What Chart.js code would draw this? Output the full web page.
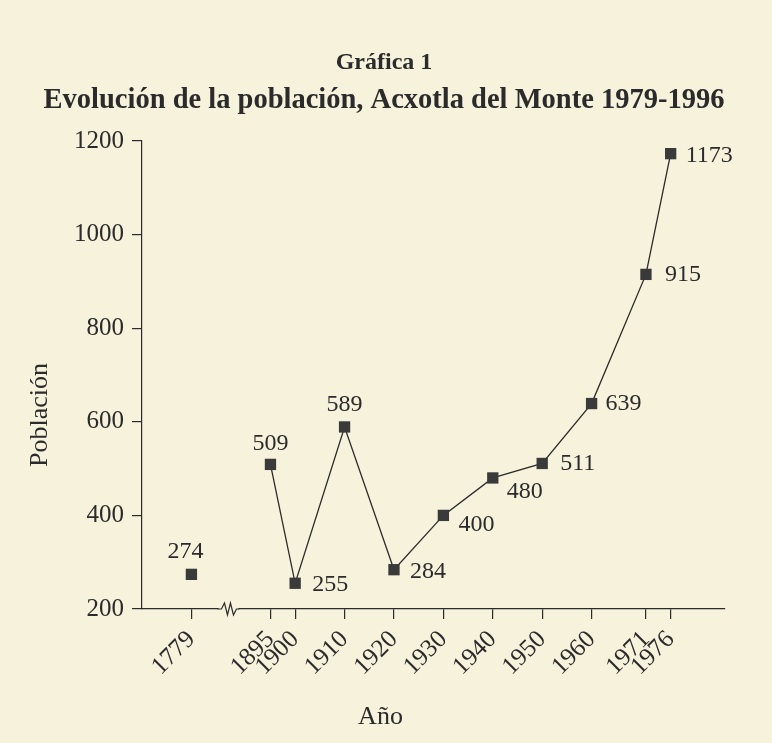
<!DOCTYPE html>
<html>
<head>
<meta charset="utf-8">
<script src="https://cdn.jsdelivr.net/npm/chart.js@4"></script>
<style>
    html, body { margin: 0; padding: 0; background: #f6f2dc; }
    #wrap { width: 772px; height: 743px; }
</style>
</head>
<body>
<div id="wrap"><canvas id="poblacionChart" width="772" height="743"></canvas></div>
<script>
// Datos
const years = ['1779', '1895', '1900', '1910', '1920', '1930', '1940', '1950', '1960', '1971', '1976'];
const population = [274, 509, 255, 589, 284, 400, 480, 511, 639, 915, 1173];
const yTicks = [200, 400, 600, 800, 1000, 1200];

const chartTitle = 'Gráfica 1';
const chartSubtitle = 'Evolución de la población, Acxotla del Monte 1979-1996';
const xTitle = 'Año';
const yTitle = 'Población';

// 1779 is drawn just left of the axis break
const BREAK_AT = 1886.5;
function axisPos(year) {
    const y = Number(year);
    return y < 1890 ? 1879 : y;
}

// label placement: dx, dy, align
const labelOffsets = [
    [-6, -23, 'center'],
    [0, -21, 'center'],
    [17, 1, 'left'],
    [0, -22, 'center'],
    [16, 2, 'left'],
    [15, 9, 'left'],
    [14, 14, 'left'],
    [18, 0, 'left'],
    [14, 0, 'left'],
    [19, 0, 'left'],
    [15, 2, 'left']
];

const ink = '#2b2b2b';
const paper = '#f6f2dc';
const serif = '"Liberation Serif", "DejaVu Serif", serif';

const pointLabels = {
    id: 'pointLabels',
    afterDatasetsDraw(chart) {
        const ctx = chart.ctx;
        const meta = chart.getDatasetMeta(0);
        ctx.save();
        ctx.font = '24px ' + serif;
        ctx.fillStyle = ink;
        ctx.textBaseline = 'middle';
        meta.data.forEach((pt, i) => {
            const off = labelOffsets[i];
            ctx.textAlign = off[2];
            ctx.fillText(String(population[i]), pt.x + off[0], pt.y + off[1]);
        });
        ctx.restore();
    }
};

// axis titles sit a bit off-centre in the original
const axisTitles = {
    id: 'axisTitles',
    afterDraw(chart) {
        const ctx = chart.ctx;
        const area = chart.chartArea;
        ctx.save();
        ctx.font = '26px ' + serif;
        ctx.fillStyle = ink;
        ctx.textAlign = 'center';
        ctx.textBaseline = 'middle';
        ctx.fillText(xTitle, (area.left + area.right) / 2 - 53, chart.height - 26);
        ctx.translate(40, (area.top + area.bottom) / 2 + 40);
        ctx.rotate(-Math.PI / 2);
        ctx.fillText(yTitle, 0, 0);
        ctx.restore();
    }
};

const axisBreak = {
    id: 'axisBreak',
    afterDraw(chart) {
        const ctx = chart.ctx;
        const x = chart.scales.x.getPixelForValue(BREAK_AT);
        const y = chart.scales.x.top;
        ctx.save();
        ctx.fillStyle = paper;
        ctx.fillRect(x - 10, y - 2, 20, 4);
        ctx.strokeStyle = ink;
        ctx.lineWidth = 1.2;
        ctx.beginPath();
        ctx.moveTo(x - 11, y);
        ctx.lineTo(x - 7, y);
        ctx.lineTo(x - 4, y - 6);
        ctx.lineTo(x - 1, y + 6);
        ctx.lineTo(x + 2, y - 6);
        ctx.lineTo(x + 5, y + 6);
        ctx.lineTo(x + 8, y);
        ctx.lineTo(x + 11, y);
        ctx.stroke();
        ctx.restore();
    }
};

const ctx = document.getElementById('poblacionChart').getContext('2d');
new Chart(ctx, {
    type: 'line',
    data: {
        datasets: [{
            data: years.map((yr, i) => ({ x: axisPos(yr), y: population[i] })),
            borderColor: ink,
            borderWidth: 1.3,
            pointStyle: 'rect',
            pointRadius: 8,
            pointHoverRadius: 8,
            pointBackgroundColor: '#3a3a3a',
            pointBorderColor: '#3a3a3a',
            pointBorderWidth: 0,
            tension: 0,
            segment: {
                // 1779 stands alone, no line to 1895
                borderColor: c => c.p0DataIndex === 0 ? 'rgba(0,0,0,0)' : ink
            }
        }]
    },
    options: {
        responsive: false,
        animation: false,
        layout: { padding: { top: 48, left: 43, right: 47, bottom: 10 } },
        plugins: {
            legend: { display: false },
            tooltip: { enabled: false },
            title: {
                display: true,
                text: chartTitle,
                color: ink,
                font: { family: serif, size: 24, weight: 'bold', lineHeight: 1.2 },
                padding: { top: 0, bottom: 7 }
            },
            subtitle: {
                display: true,
                text: chartSubtitle,
                color: ink,
                font: { family: serif, size: 28.5, weight: 'bold', lineHeight: 1.2 },
                padding: { top: 0, bottom: 23 }
            }
        },
        scales: {
            x: {
                type: 'linear',
                min: 1869,
                max: 1987,
                afterFit(scale) { scale.height = 124; },
                afterBuildTicks(scale) {
                    scale.ticks = years.map(yr => ({ value: axisPos(yr) }));
                },
                ticks: {
                    autoSkip: false,
                    minRotation: 45,
                    maxRotation: 45,
                    padding: 6,
                    color: ink,
                    font: { family: serif, size: 25 },
                    callback: (value, index) => years[index]
                },
                grid: { drawOnChartArea: false, drawTicks: true, tickLength: 10, color: ink, lineWidth: 1.2 },
                border: { display: true, color: ink, width: 1.2 }
            },
            y: {
                min: 200,
                max: 1200,
                afterFit(scale) { scale.width = 99; },
                afterBuildTicks(scale) {
                    scale.ticks = yTicks.map(v => ({ value: v }));
                },
                ticks: {
                    padding: 8,
                    color: ink,
                    font: { family: serif, size: 25 },
                    callback: v => String(v)
                },
                grid: { drawOnChartArea: false, drawTicks: true, tickLength: 10, color: ink, lineWidth: 1.2 },
                border: { display: true, color: ink, width: 1.2 }
            }
        }
    },
    plugins: [pointLabels, axisTitles, axisBreak]
});
</script>
</body>
</html>
